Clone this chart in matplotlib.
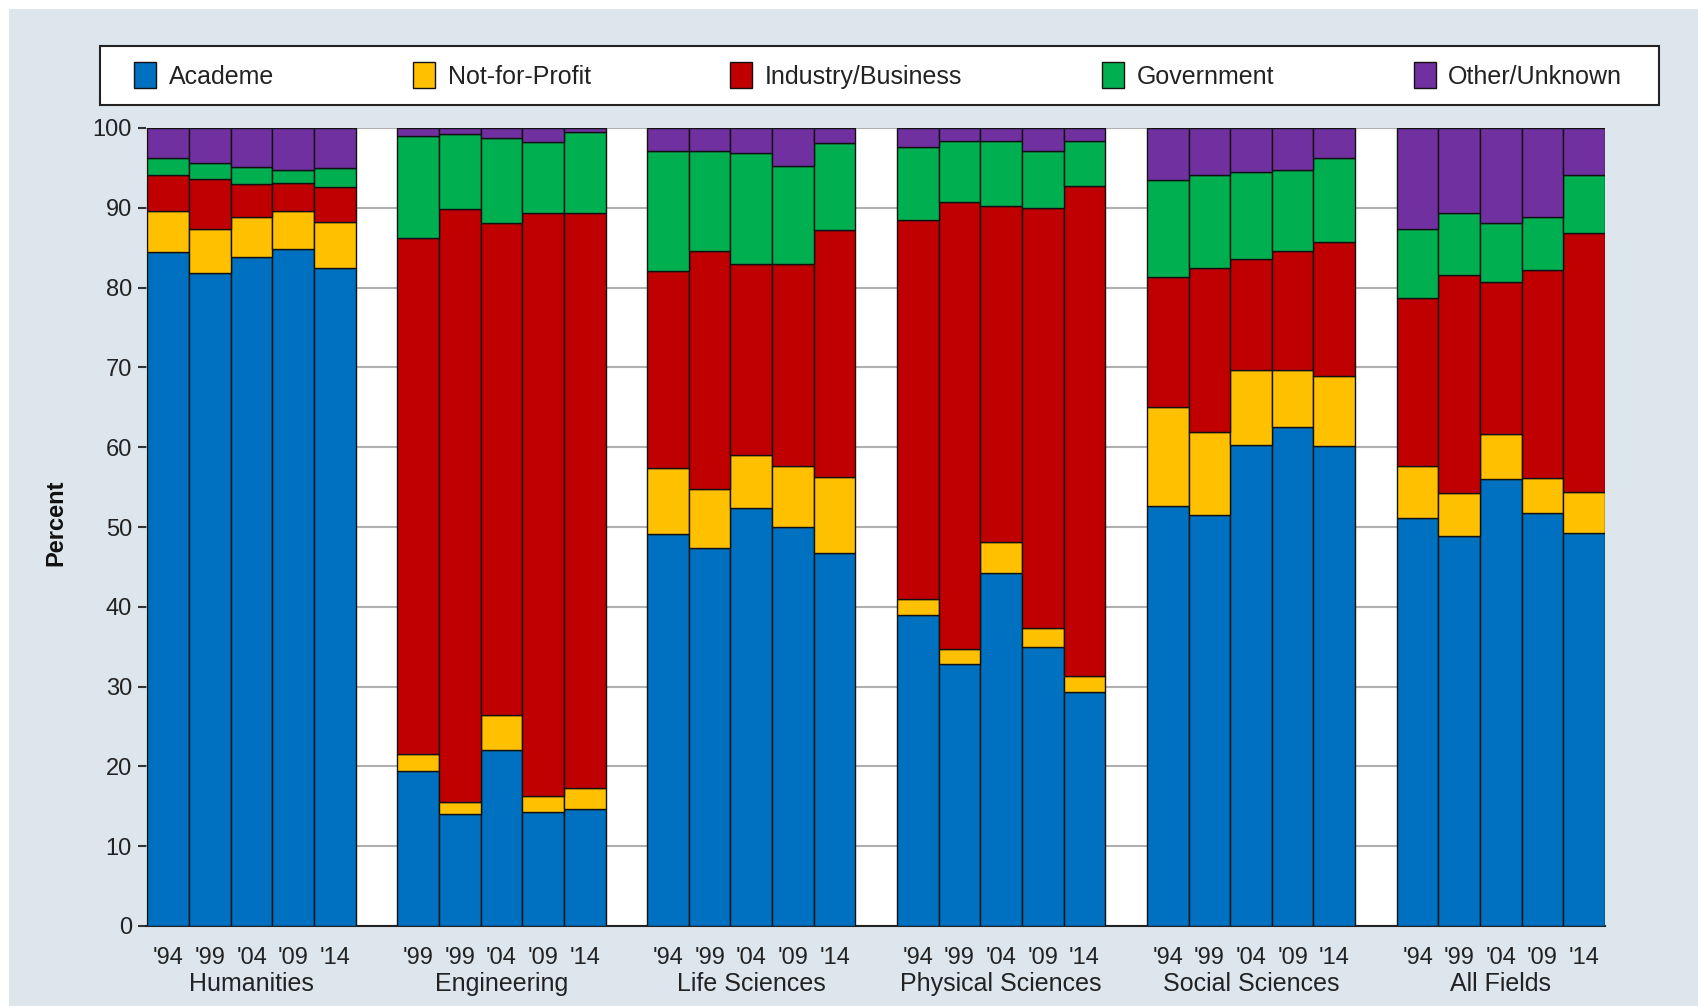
import matplotlib
matplotlib.use('Agg')
import matplotlib.pyplot as plt
from matplotlib.patches import Rectangle
import numpy as np

plt.rcParams['font.family'] = ['Liberation Sans', 'DejaVu Sans']

# データ (各分野 5 調査年, 単位: %)
groups = ['Humanities', 'Engineering', 'Life Sciences', 'Physical Sciences',
          'Social Sciences', 'All Fields']
year_labels = ["'94", "'99", "'04", "'09", "'14",
               "'99", "'99", "'04", "'09", "'14",
               "'94", "'99", "'04", "'09", "'14",
               "'94", "'99", "'04", "'09", "'14",
               "'94", "'99", "'04", "'09", "'14",
               "'94", "'99", "'04", "'09", "'14"]

sectors = ['Academe', 'Not-for-Profit', 'Industry/Business', 'Government', 'Other/Unknown']
colors = ['#0070C0', '#FFC000', '#C00000', '#00B050', '#7030A0']

academe = [84.4, 81.8, 83.8, 84.8, 82.5,
           19.4, 14.0, 22.0, 14.3, 14.7,
           49.1, 47.4, 52.4, 50.0, 46.8,
           39.0, 32.8, 44.2, 34.9, 29.3,
           52.6, 51.5, 60.3, 62.5, 60.1,
           51.1, 48.9, 56.0, 51.7, 49.2]
not_for_profit = [5.2, 5.5, 5.1, 4.8, 5.7,
                  2.1, 1.6, 4.4, 2.0, 2.6,
                  8.3, 7.3, 6.6, 7.7, 9.5,
                  2.0, 1.9, 3.9, 2.4, 2.0,
                  12.5, 10.4, 9.4, 7.2, 8.8,
                  6.6, 5.3, 5.7, 4.5, 5.2]
industry = [4.5, 6.3, 4.1, 3.5, 4.4,
            64.7, 74.3, 61.7, 73.1, 72.1,
            24.7, 29.9, 23.9, 25.2, 30.9,
            47.5, 56.0, 42.1, 52.7, 61.4,
            16.2, 20.6, 13.9, 14.9, 16.8,
            21.0, 27.4, 19.0, 26.0, 32.4]
government = [2.1, 2.0, 2.1, 1.6, 2.4,
              12.8, 9.4, 10.7, 8.8, 10.1,
              15.0, 12.5, 14.0, 12.3, 10.9,
              9.1, 7.7, 8.2, 7.1, 5.7,
              12.2, 11.6, 10.9, 10.1, 10.5,
              8.7, 7.7, 7.4, 6.6, 7.3]
other = [3.8, 4.4, 4.9, 5.3, 5.0,
         1.0, 0.7, 1.2, 1.8, 0.5,
         2.9, 2.9, 3.1, 4.8, 1.9,
         2.4, 1.6, 1.6, 2.9, 1.6,
         6.5, 5.9, 5.5, 5.3, 3.8,
         12.6, 10.7, 11.9, 11.2, 5.9]

series = [academe, not_for_profit, industry, government, other]

W, H = 1698, 1006
fig = plt.figure(figsize=(W / 100, H / 100), dpi=100)
fig.patch.set_facecolor('white')
fig.patches.append(Rectangle((9 / W, 0), 1, 1 - 9 / H, transform=fig.transFigure,
                             facecolor='#dce6ec', edgecolor='none', zorder=-10))

ax = fig.add_axes([146 / W, 1 - 926 / H, (1605 - 146) / W, (926 - 128) / H])
ax.set_facecolor('white')

# 棒の位置: 分野ごとに 5 本 + 1 本分の間隔
n_per = 5
x = np.array([g * (n_per + 1) + i for g in range(len(groups)) for i in range(n_per)])

bottom = np.zeros(len(x))
handles = []
for vals, col, lab in zip(series, colors, sectors):
    vals = np.array(vals)
    b = ax.bar(x, vals, width=1.0, bottom=bottom, color=col, edgecolor='#111111',
               linewidth=1.0, label=lab, zorder=3)
    handles.append(b)
    bottom += vals

ax.set_xlim(-0.536, x[-1] + 0.5)
ax.set_ylim(0, 100)
ax.set_yticks(np.arange(0, 101, 10))
ax.yaxis.grid(True, color='#b0b0b0', linewidth=1.5)
ax.set_axisbelow(True)

for s in ['top', 'right', 'left']:
    ax.spines[s].set_visible(False)
ax.spines['bottom'].set_color('#222222')
ax.spines['bottom'].set_linewidth(1.5)

ax.tick_params(axis='y', length=5.8, width=1.5, color='#333333', pad=4.3,
               labelsize=17, labelcolor='#222222')

# 年ラベル (major) と分野名 (minor)
ax.xaxis.remove_overlapping_locs = False
ax.set_xticks(x)
ax.set_xticklabels(year_labels)
ax.tick_params(axis='x', which='major', length=0, pad=15, labelsize=17, labelcolor='#222222')
centers = [g * (n_per + 1) + (n_per - 1) / 2 for g in range(len(groups))]
ax.set_xticks(centers, minor=True)
ax.set_xticklabels(groups, minor=True)
ax.tick_params(axis='x', which='minor', length=0, pad=33, labelsize=18, labelcolor='#222222')

fig.text(56 / W, 1 - 523 / H, 'Percent', rotation=90, ha='center', va='center',
         fontsize=17, fontweight='bold', color='#111111')

# 凡例
fig.patches.append(Rectangle((100 / W, 1 - 105 / H), (1659 - 100) / W, 59 / H,
                             transform=fig.transFigure, facecolor='white',
                             edgecolor='#222222', linewidth=1.5, zorder=-5))
fig.legend(handles, sectors, loc='center', ncol=5, mode='expand', frameon=False,
           bbox_to_anchor=(134 / W, 1 - 105 / H, (1622 - 134) / W, 59 / H),
           borderpad=0, borderaxespad=0, fontsize=18, handlelength=0.88,
           handleheight=1.2, handletextpad=0.5, labelcolor='#222222')

plt.savefig('out.png', dpi=100, facecolor=fig.get_facecolor())
